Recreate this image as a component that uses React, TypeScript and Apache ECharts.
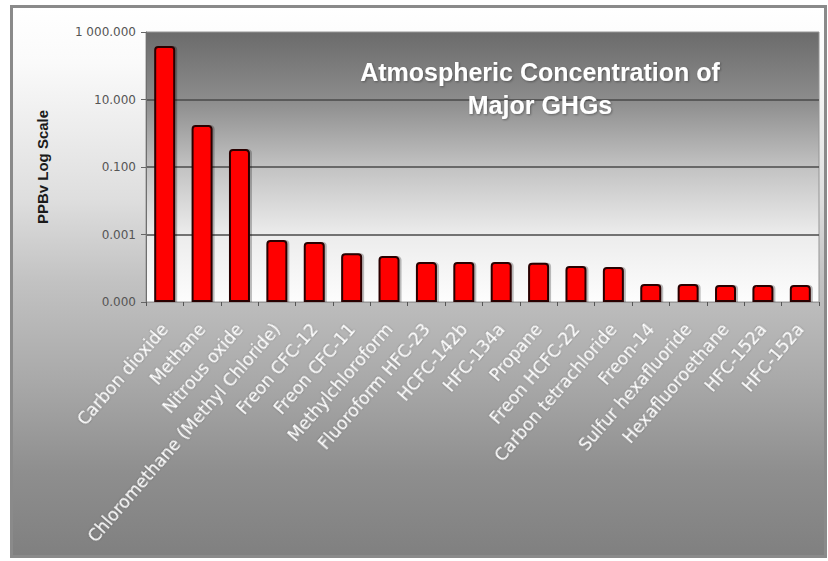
import React, { useEffect, useRef } from "react";
import * as echarts from "echarts";

const categories = [
  "Carbon dioxide",
  "Methane",
  "Nitrous oxide",
  "Chloromethane (Methyl Chloride)",
  "Freon CFC-12",
  "Freon CFC-11",
  "Methylchloroform",
  "Fluoroform HFC-23",
  "HCFC-142b",
  "HFC-134a",
  "Propane",
  "Freon HCFC-22",
  "Carbon tetrachloride",
  "Freon-14",
  "Sulfur hexafluoride",
  "Hexafluoroethane",
  "HFC-152a",
  "HFC-152a",
];

const concentrations = [
  385, 1.75, 0.34, 0.00069, 0.0006, 0.00028, 0.00023, 0.000153, 0.000153, 0.000153,
  0.000145, 0.000117, 0.000109, 0.000034, 0.000034, 0.000032, 0.000032, 0.000032,
];

const yTickExponents = [-5, -3, -1, 1, 3];
const yTickLabels = ["0.000", "0.001", "0.100", "10.000", "1 000.000"];

const titleText = "Atmospheric Concentration of\nMajor GHGs";
const yAxisName = "PPBv Log Scale";

export default function App() {
  const ref = useRef<HTMLDivElement>(null);

  useEffect(() => {
    if (!ref.current) return;
    const chart = echarts.init(ref.current, null, { renderer: "svg" });
    chart.setOption({
      animation: false,
      title: {
        text: titleText,
        left: 535,
        top: 50,
        textAlign: "center",
        textStyle: {
          color: "#ffffff",
          fontFamily: "Liberation Sans",
          fontWeight: "bold",
          fontSize: 25,
          lineHeight: 33,
          textShadowColor: "rgba(0,0,0,0.35)",
          textShadowBlur: 2,
          textShadowOffsetX: 1,
          textShadowOffsetY: 1,
        },
      },
      grid: {
        left: 146,
        right: 9,
        top: 32,
        bottom: 259,
        show: true,
        borderColor: "#959595",
        borderWidth: 1,
        backgroundColor: new echarts.graphic.LinearGradient(0, 0, 0, 1, [
          { offset: 0, color: "#6b6b6b" },
          { offset: 0.25, color: "#8c8c8c" },
          { offset: 0.5, color: "#c2c2c2" },
          { offset: 0.75, color: "#ececec" },
          { offset: 1, color: "#fdfdfd" },
        ]),
      },
      xAxis: {
        type: "category",
        data: categories,
        axisLine: { show: true, lineStyle: { color: "#9a9a9a", width: 1 } },
        axisTick: { show: true, length: 4, alignWithLabel: false, lineStyle: { color: "#555" } },
        axisLabel: {
          interval: 0,
          rotate: 49,
          margin: 24,
          color: "#ffffff",
          fontFamily: "DejaVu Sans",
          fontSize: 17,
          textShadowColor: "rgba(0,0,0,0.35)",
          textShadowBlur: 2,
        },
        splitLine: { show: false },
      },
      yAxis: {
        type: "log",
        logBase: 10,
        min: Math.pow(10, yTickExponents[0]),
        max: Math.pow(10, yTickExponents[yTickExponents.length - 1]),
        interval: 2,
        startValue: Math.pow(10, yTickExponents[0]),
        name: yAxisName,
        nameLocation: "middle",
        nameGap: 96,
        nameRotate: 90,
        nameTextStyle: {
          color: "#1a1a1a",
          fontFamily: "Liberation Sans",
          fontWeight: "bold",
          fontSize: 15,
        },
        axisLine: { show: true, lineStyle: { color: "#6f6f6f", width: 1 } },
        axisTick: { show: true, inside: false, length: 5, lineStyle: { color: "#666" } },
        axisLabel: {
          margin: 10,
          color: "#555555",
          fontFamily: "DejaVu Sans",
          fontSize: 12,
          formatter: (value: number) => {
            const e = Math.round(Math.log10(value));
            const i = yTickExponents.indexOf(e);
            return i >= 0 ? yTickLabels[i] : "";
          },
        },
        splitLine: {
          show: true,
          showMinLine: false,
          showMaxLine: false,
          lineStyle: { color: "#4a4a4a", width: 1.5 },
        },
      },
      series: [
        {
          type: "bar",
          data: concentrations,
          barWidth: 21,
          itemStyle: {
            color: "#ff0000",
            borderColor: "#2a0000",
            borderWidth: 2,
            borderRadius: [3, 3, 0, 0],
            shadowColor: "rgba(0,0,0,0.25)",
            shadowOffsetX: 2,
            shadowBlur: 1,
          },
        },
      ],
    });
    return () => chart.dispose();
  }, []);

  return (
    <div
      style={{
        position: "fixed",
        left: 0,
        top: 0,
        width: 828,
        height: 561,
        background: "#ffffff",
        overflow: "hidden",
      }}
    >
      <div
        style={{
          position: "absolute",
          left: 10,
          top: 5,
          width: 811,
          height: 547,
          border: "3px solid #8a8a8a",
          background:
            "linear-gradient(to bottom, #ffffff 0%, #fafafa 10%, #dedede 35%, #c2c2c2 50%, #a9a9a9 68%, #8e8e8e 85%, #808080 100%)",
        }}
      />
      <div ref={ref} style={{ position: "absolute", left: 0, top: 0, width: 828, height: 561 }} />
    </div>
  );
}
